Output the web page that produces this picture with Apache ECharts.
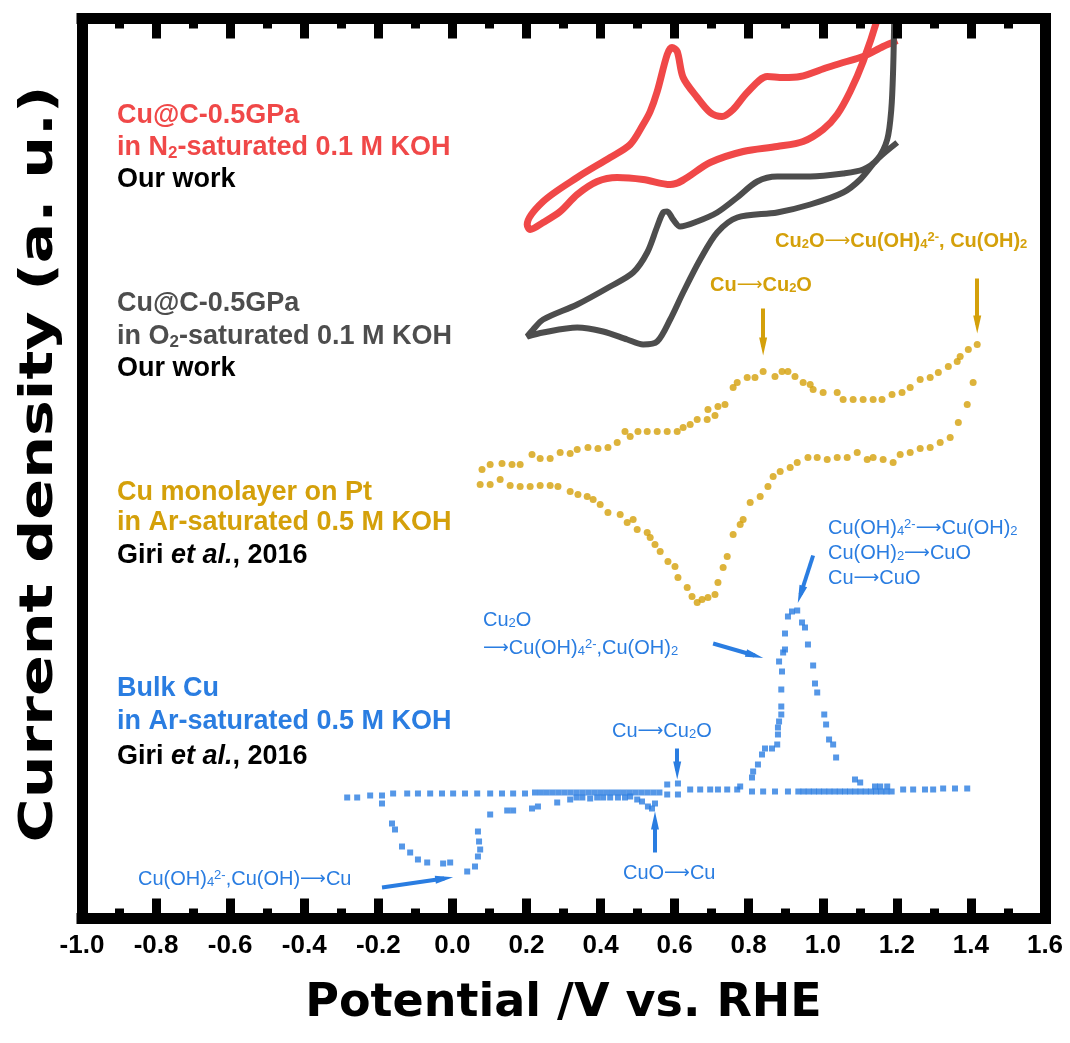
<!DOCTYPE html>
<html><head><meta charset="utf-8">
<script src="https://cdn.jsdelivr.net/npm/echarts@6/dist/echarts.min.js"></script>
<style>html,body{margin:0;padding:0;background:#fff}#c{width:1070px;height:1043px}</style>
</head><body><div id="c"></div>
<script>
// x tick labels (V vs RHE)
var xTicks = ['-1.0','-0.8','-0.6','-0.4','-0.2','0.0','0.2','0.4','0.6','0.8','1.0','1.2','1.4','1.6'];

// Cu@C-0.5GPa in N2-saturated 0.1 M KOH (offset CV, a.u.)
var redCV = [[1.201,87.8],[1.163,87.2],[1.109,86.2],[1.055,85.6],[1.012,85.1],[0.939,84.2],[0.893,84.1],[0.850,84.2],[0.796,82.6],[0.758,80.9],[0.728,80.2],[0.696,80.6],[0.661,82.1],[0.623,84.1],[0.607,86.7],[0.593,87.1],[0.580,86.4],[0.553,82.7],[0.534,80.7],[0.515,79.4],[0.480,77.4],[0.426,76.1],[0.337,74.1],[0.245,71.7],[0.202,69.4],[0.210,68.9],[0.245,69.6],[0.291,70.7],[0.337,72.4],[0.391,73.7],[0.445,74.1],[0.515,73.9],[0.588,73.4],[0.696,75.6],[0.785,76.7],[0.877,77.2],[0.947,77.7],[1.001,78.9],[1.039,80.4],[1.074,82.7],[1.109,85.7],[1.147,89.9],[1.166,92.9]];

// Cu@C-0.5GPa in O2-saturated 0.1 M KOH
var grayCV = [[1.201,77.6],[1.147,75.9],[1.101,73.9],[1.055,72.6],[0.966,71.4],[0.877,70.6],[0.769,70.1],[0.715,68.6],[0.669,65.9],[0.623,62.6],[0.588,59.9],[0.553,57.7],[0.515,57.4],[0.472,57.9],[0.407,58.7],[0.337,59.1],[0.245,58.6],[0.202,58.2],[0.218,58.9],[0.245,59.9],[0.337,61.4],[0.426,63.2],[0.488,64.6],[0.526,66.6],[0.553,69.2],[0.569,70.6],[0.580,70.7],[0.596,69.9],[0.615,69.2],[0.661,69.7],[0.715,70.6],[0.769,72.1],[0.823,73.7],[0.877,74.2],[0.966,74.2],[1.055,74.5],[1.109,74.9],[1.147,75.9],[1.174,77.9],[1.185,80.9],[1.190,84.9],[1.193,89.9],[1.195,92.9]];

// Cu monolayer on Pt, anodic and cathodic scans
var goldAnodic = [[0.080,44.9],[0.102,45.4],[0.134,45.5],[0.161,45.4],[0.183,45.4],[0.215,46.4],[0.237,46.0],[0.264,46.0],[0.291,46.6],[0.318,46.5],[0.337,46.9],[0.366,47.1],[0.393,47.0],[0.420,47.1],[0.445,47.6],[0.466,48.7],[0.480,48.2],[0.501,48.7],[0.526,48.7],[0.553,48.7],[0.580,48.7],[0.607,48.7],[0.623,49.1],[0.642,49.4],[0.661,49.9],[0.688,49.9],[0.690,50.9],[0.709,50.3],[0.717,51.2],[0.736,51.4],[0.758,53.1],[0.769,53.6],[0.796,54.1],[0.817,54.1],[0.839,54.7],[0.871,54.2],[0.890,54.7],[0.906,54.7],[0.925,54.2],[0.947,53.6],[0.966,53.4],[0.974,52.9],[1.001,52.6],[1.039,52.6],[1.055,51.9],[1.082,51.9],[1.109,51.9],[1.136,51.9],[1.160,51.9],[1.187,52.4],[1.214,52.6],[1.236,53.1],[1.263,53.9],[1.290,54.1],[1.312,54.6],[1.339,55.2],[1.363,55.7],[1.371,56.2],[1.393,56.9],[1.417,57.4]];
var goldCathodic = [[1.406,53.6],[1.390,51.4],[1.366,49.6],[1.344,48.1],[1.317,47.6],[1.290,47.1],[1.263,47.0],[1.236,46.6],[1.209,46.4],[1.190,45.6],[1.163,45.9],[1.136,46.1],[1.120,45.9],[1.093,46.6],[1.066,46.1],[1.039,46.1],[1.012,45.9],[0.985,46.1],[0.960,46.1],[0.931,45.6],[0.912,45.1],[0.885,44.7],[0.866,44.2],[0.852,43.2],[0.831,42.2],[0.804,41.6],[0.785,39.9],[0.777,39.4],[0.758,38.4],[0.742,36.2],[0.731,35.1],[0.717,33.6],[0.709,32.4],[0.690,32.1],[0.674,31.9],[0.661,31.6],[0.647,32.2],[0.634,33.1],[0.609,34.1],[0.601,35.2],[0.582,35.7],[0.561,36.7],[0.547,37.4],[0.534,38.1],[0.526,38.6],[0.499,38.9],[0.488,39.9],[0.472,39.6],[0.453,40.4],[0.420,40.6],[0.399,41.4],[0.380,41.9],[0.364,42.2],[0.339,42.4],[0.318,42.7],[0.285,43.2],[0.264,43.3],[0.237,43.3],[0.210,43.2],[0.183,43.2],[0.156,43.3],[0.129,43.9],[0.102,43.4],[0.075,43.4]];

// Bulk Cu in Ar-saturated 0.5 M KOH
var bulkCu = [[-0.284,12.1],[-0.257,12.1],[-0.222,12.3],[-0.190,12.3],[-0.160,12.5],[-0.122,12.5],[-0.093,12.5],[-0.060,12.5],[-0.028,12.5],[0.002,12.5],[0.034,12.5],[0.067,12.5],[0.102,12.5],[0.134,12.5],[0.164,12.5],[0.196,12.5],
[-0.190,11.5],[-0.163,9.5],[-0.155,8.9],[-0.136,7.2],[-0.114,6.6],[-0.093,5.9],[-0.068,5.6],[-0.025,5.5],[-0.006,5.6],[0.040,4.7],[0.061,5.2],[0.069,6.2],[0.075,6.9],[0.072,7.7],[0.069,8.7],[0.102,10.4],[0.148,10.8],[0.164,10.8],[0.215,11.0],[0.231,11.2],[0.283,11.6],[0.318,11.9],[0.372,12.0],[0.426,12.1],
[0.223,12.6],[0.239,12.6],[0.255,12.6],[0.271,12.6],[0.287,12.6],[0.303,12.6],[0.319,12.6],[0.335,12.6],[0.351,12.6],[0.367,12.6],[0.383,12.6],[0.399,12.6],[0.415,12.6],[0.431,12.6],[0.447,12.6],[0.463,12.6],[0.479,12.6],[0.495,12.6],[0.511,12.6],[0.527,12.6],[0.543,12.6],[0.559,12.6],
[0.335,12.1],[0.351,12.1],[0.391,12.1],[0.407,12.1],[0.447,12.1],[0.466,12.1],[0.480,12.2],[0.499,11.9],[0.512,11.7],[0.528,11.2],[0.539,11.0],[0.547,11.5],[0.580,12.4],[0.580,13.4],[0.609,13.5],[0.609,12.4],
[0.642,12.9],[0.669,12.9],[0.696,12.9],[0.717,12.9],[0.742,12.9],[0.769,12.9],[0.777,13.2],[0.809,12.7],[0.839,12.7],[0.871,12.7],[0.906,12.7],[0.934,12.7],[0.948,12.7],[0.962,12.7],[0.976,12.7],[0.990,12.7],[1.004,12.7],[1.018,12.7],[1.032,12.7],[1.046,12.7],[1.060,12.7],[1.074,12.7],[1.088,12.7],[1.102,12.7],[1.116,12.7],[1.130,12.7],[1.144,12.7],[1.158,12.7],[1.172,12.7],[1.186,12.7],[1.141,13.2],[1.155,13.2],[1.174,13.2],[1.217,12.9],[1.244,12.9],[1.276,12.9],[1.298,12.9],[1.325,13.0],[1.357,13.0],[1.390,13.0],
[0.809,14.1],[0.812,14.7],[0.825,15.4],[0.836,16.4],[0.844,17.0],[0.863,17.0],[0.877,17.4],[0.879,18.4],[0.879,19.1],[0.882,19.7],[0.888,20.4],[0.888,21.2],[0.888,22.9],[0.890,24.7],[0.882,25.7],[0.893,26.6],[0.898,26.9],[0.898,28.5],[0.906,30.2],[0.917,30.7],[0.931,30.8],[0.944,29.6],[0.952,29.1],[0.960,27.4],[0.974,25.3],[0.979,23.5],[0.985,22.6],[1.004,20.4],[1.009,19.4],[1.017,17.9],[1.028,17.4],[1.036,16.1],[1.087,13.9],[1.101,13.6]];

// annotation arrows [start, end] in data units
var goldArrows = [[[0.839,61.0],[0.839,57.2]],[[1.417,64.0],[1.417,59.4]]];
var blueArrows = [[[0.974,36.3],[0.940,32.4]],[[0.704,27.5],[0.816,26.3]],[[0.607,17.0],[0.607,14.8]],[[0.547,6.6],[0.547,9.8]],[[-0.190,3.1],[-0.022,4.0]]];

var RED = '#F04848', GRAY = '#4D4D4D', GOLD = '#D4A00A', BLUE = '#2A7DE1';
var AF = '"Liberation Sans", Arial, sans-serif';
var TF = '"DejaVu Sans", sans-serif';

function richSet(size, weight, color) {
  var s = Math.round(size * 0.64);
  return {
    n: {fontSize: size, fontWeight: weight, fontFamily: AF, fill: color},
    it: {fontSize: size, fontWeight: weight, fontStyle: 'italic', fontFamily: AF, fill: color},
    ar: {fontSize: Math.round(size * 0.9), fontWeight: 'normal', fontFamily: TF, fill: color},
    sub: {fontSize: s, fontWeight: weight, fontFamily: AF, fill: color, verticalAlign: 'bottom', lineHeight: s},
    sup: {fontSize: s, fontWeight: weight, fontFamily: AF, fill: color, verticalAlign: 'top', lineHeight: s}
  };
}
function txt(x, y, text, size, weight, color) {
  return {type: 'text', x: x, y: y, z: 100, silent: true,
    style: {text: text.replace(/\u2192/g, '{ar|\u27F6}'), fill: color, fontSize: size, fontWeight: weight, fontFamily: AF,
      align: 'left', verticalAlign: 'middle', rich: richSet(size, weight, color)}};
}
function arrowLines(list) {
  return list.map(function (a) { return [{coord: a[0]}, {coord: a[1]}]; });
}

var chart = echarts.init(document.getElementById('c'), null, {renderer: 'canvas'});
var tickAxis = {
  type: 'value', min: -1, max: 1.6, interval: 0.2, z: 10,
  axisLine: {show: true, onZero: false, lineStyle: {color: '#000', width: 11, cap: 'square'}},
  axisTick: {show: true, inside: true, length: 20, lineStyle: {color: '#000', width: 9}},
  minorTick: {show: true, splitNumber: 2, length: 10, lineStyle: {color: '#000', width: 9}},
  splitLine: {show: false}, minorSplitLine: {show: false}
};
var frameY = {
  type: 'value', min: 0, max: 90, z: 10,
  axisLine: {show: true, onZero: false, lineStyle: {color: '#000', width: 11, cap: 'square'}},
  axisTick: {show: false}, axisLabel: {show: false}, splitLine: {show: false}
};
var option = {
  animation: false,
  backgroundColor: '#fff',
  grid: {left: 82, right: 25, top: 18.5, bottom: 124.5, containLabel: false, outerBoundsMode: 'none'},
  xAxis: [
    Object.assign({}, tickAxis, {position: 'bottom',
      axisLabel: {show: true, margin: 14, color: '#000', fontSize: 26, fontWeight: 'bold', fontFamily: AF,
        formatter: function (v) { var i = Math.round((v + 1) / 0.2); return xTicks[i] || ''; }},
      name: 'Potential /V vs. RHE', nameLocation: 'middle', nameGap: 63,
      nameTextStyle: {color: '#000', fontSize: 46, fontWeight: 'bold', fontFamily: TF}}),
    Object.assign({}, tickAxis, {position: 'top', axisLabel: {show: false}})
  ],
  yAxis: [
    Object.assign({}, frameY, {position: 'left'}),
    Object.assign({}, frameY, {position: 'right'})
  ],
  series: [
    {name: 'N2', type: 'line', data: redCV, showSymbol: false, smooth: 0.3, clip: true,
      lineStyle: {color: RED, width: 7}, itemStyle: {color: RED}, z: 3},
    {name: 'O2', type: 'line', data: grayCV, showSymbol: false, smooth: 0.3, clip: true,
      lineStyle: {color: GRAY, width: 6}, itemStyle: {color: GRAY}, z: 3},
    {name: 'ML anodic', type: 'scatter', data: goldAnodic, symbol: 'circle', symbolSize: 7,
      itemStyle: {color: GOLD}, z: 3,
      markLine: {silent: true, animation: false, symbol: ['none', 'triangle'], symbolSize: [8, 18],
        label: {show: false}, lineStyle: {color: GOLD, width: 4, type: 'solid'},
        emphasis: {disabled: true}, data: arrowLines(goldArrows)}},
    {name: 'ML cathodic', type: 'scatter', data: goldCathodic, symbol: 'circle', symbolSize: 7,
      itemStyle: {color: GOLD}, z: 3},
    {name: 'Bulk', type: 'scatter', data: bulkCu, symbol: 'rect', symbolSize: 6,
      itemStyle: {color: BLUE}, z: 3,
      markLine: {silent: true, animation: false, symbol: ['none', 'triangle'], symbolSize: [8, 18],
        label: {show: false}, lineStyle: {color: BLUE, width: 4, type: 'solid'},
        emphasis: {disabled: true}, data: arrowLines(blueArrows)}}
  ],
  graphic: [
    {type: 'text', x: 40, y: 464, rotation: Math.PI / 2, scaleX: 1.28, scaleY: 1, z: 100, silent: true,
      style: {text: 'Current density (a. u.)', fill: '#000', fontSize: 47, fontWeight: 'bold', fontFamily: TF,
        align: 'center', verticalAlign: 'middle'}},
    txt(117, 116, 'Cu@C-0.5GPa', 27, 'bold', RED),
    txt(117, 148, 'in N{sub|2}-saturated 0.1 M KOH', 27, 'bold', RED),
    txt(117, 180, 'Our work', 27, 'bold', '#000'),
    txt(117, 304, 'Cu@C-0.5GPa', 27, 'bold', GRAY),
    txt(117, 337, 'in O{sub|2}-saturated 0.1 M KOH', 27, 'bold', GRAY),
    txt(117, 369, 'Our work', 27, 'bold', '#000'),
    txt(117, 493, 'Cu monolayer on Pt', 27, 'bold', GOLD),
    txt(117, 523, 'in Ar-saturated 0.5 M KOH', 27, 'bold', GOLD),
    txt(117, 556, 'Giri {it|et al.}, 2016', 27, 'bold', '#000'),
    txt(117, 689, 'Bulk Cu', 27, 'bold', BLUE),
    txt(117, 722, 'in Ar-saturated 0.5 M KOH', 27, 'bold', BLUE),
    txt(117, 757, 'Giri {it|et al.}, 2016', 27, 'bold', '#000'),
    txt(775, 241, 'Cu{sub|2}O\u2192Cu(OH){sub|4}{sup|2-}, Cu(OH){sub|2}', 20, 'bold', GOLD),
    txt(710, 285, 'Cu\u2192Cu{sub|2}O', 20, 'bold', GOLD),
    txt(828, 528, 'Cu(OH){sub|4}{sup|2-}\u2192Cu(OH){sub|2}', 20, 'normal', BLUE),
    txt(828, 553, 'Cu(OH){sub|2}\u2192CuO', 20, 'normal', BLUE),
    txt(828, 578, 'Cu\u2192CuO', 20, 'normal', BLUE),
    txt(483, 620, 'Cu{sub|2}O', 20, 'normal', BLUE),
    txt(483, 648, '\u2192Cu(OH){sub|4}{sup|2-},Cu(OH){sub|2}', 20, 'normal', BLUE),
    txt(612, 731, 'Cu\u2192Cu{sub|2}O', 20, 'normal', BLUE),
    txt(623, 873, 'CuO\u2192Cu', 20, 'normal', BLUE),
    txt(138, 879, 'Cu(OH){sub|4}{sup|2-},Cu(OH)\u2192Cu', 20, 'normal', BLUE)
  ]
};
chart.setOption(option);
</script></body></html>
